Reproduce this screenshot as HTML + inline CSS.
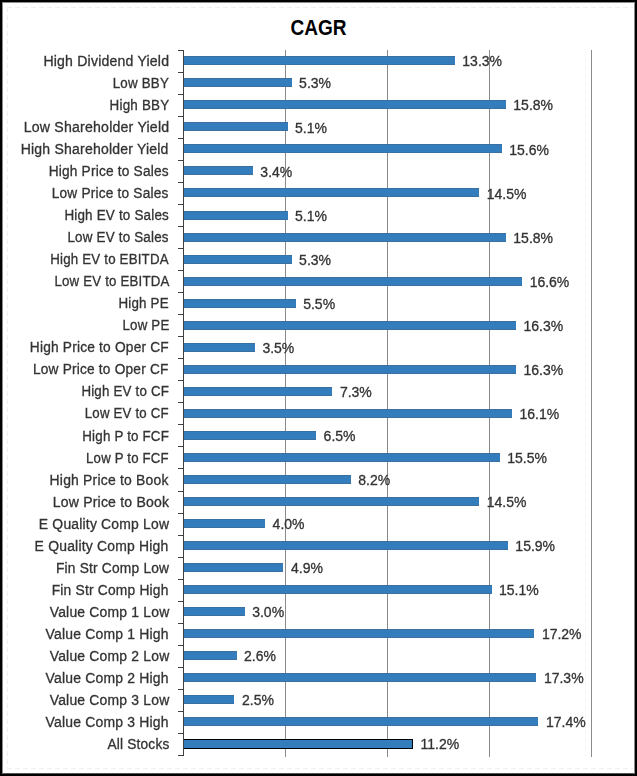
<!DOCTYPE html>
<html><head><meta charset="utf-8"><style>
html,body{margin:0;padding:0;}
body{width:637px;height:776px;position:relative;overflow:hidden;background:#fff;font-family:"Liberation Sans",sans-serif;}
.frame{position:absolute;left:0;top:0;width:637px;height:776px;box-sizing:border-box;border:2px solid #000;}
.frame2{position:absolute;left:2px;top:2px;width:633px;height:772px;box-sizing:border-box;border:1px solid #8c8c8c;border-bottom-color:#555;}
.dh{position:absolute;height:1px;background:repeating-linear-gradient(90deg,#efefef 0 5px,transparent 5px 8px);}
.dv{position:absolute;width:1px;background:repeating-linear-gradient(180deg,#efefef 0 5px,transparent 5px 8px);}
.title{position:absolute;left:0;width:637px;top:12px;text-align:center;font-weight:bold;font-size:22.8px;color:#000;line-height:30px;transform:scaleX(0.835);transform-origin:318px 0;}
.wrap{position:absolute;left:0;top:0;width:637px;height:776px;will-change:transform;}
.g{position:absolute;top:50px;height:707px;width:1px;background:#8a8a8a;}
.ax{position:absolute;left:183px;top:50px;height:706px;width:1px;background:#404040;}
.t{position:absolute;left:178px;width:5px;height:1px;background:#404040;}
.b{position:absolute;left:184px;height:8px;background:#337dbc;box-sizing:border-box;border-top:1px solid #3a6f9f;border-bottom:1px solid #3a6f9f;}
.b.s{border:1px solid #000;border-left:0;}
.l{position:absolute;right:468px;font-size:14px;color:#333333;line-height:16px;margin-top:-8.4px;white-space:nowrap;transform-origin:100% 50%;-webkit-text-stroke:0.3px #333333;letter-spacing:0.2px;}
.v{position:absolute;font-size:14px;color:#333333;line-height:16px;margin-top:-8px;white-space:nowrap;-webkit-text-stroke:0.3px #333333;}
</style></head><body>
<div class="frame"></div><div class="frame2"></div>
<div class="dh" style="left:7px;top:7px;width:626px"></div>
<div class="dh" style="left:7px;top:768px;width:626px"></div>
<div class="dv" style="left:7px;top:7px;height:762px"></div>
<div class="dv" style="left:585px;top:50px;height:706px;opacity:0.5"></div>
<div class="title">CAGR</div>
<div class="wrap"><div class="g" style="left:285px"></div><div class="g" style="left:387px"></div><div class="g" style="left:489px"></div><div class="g" style="left:591px"></div><div class="t" style="top:49.90px"></div><div class="t" style="top:71.93px"></div><div class="t" style="top:93.96px"></div><div class="t" style="top:115.99px"></div><div class="t" style="top:138.02px"></div><div class="t" style="top:160.05px"></div><div class="t" style="top:182.08px"></div><div class="t" style="top:204.11px"></div><div class="t" style="top:226.14px"></div><div class="t" style="top:248.17px"></div><div class="t" style="top:270.20px"></div><div class="t" style="top:292.23px"></div><div class="t" style="top:314.26px"></div><div class="t" style="top:336.29px"></div><div class="t" style="top:358.32px"></div><div class="t" style="top:380.35px"></div><div class="t" style="top:402.38px"></div><div class="t" style="top:424.41px"></div><div class="t" style="top:446.44px"></div><div class="t" style="top:468.47px"></div><div class="t" style="top:490.50px"></div><div class="t" style="top:512.53px"></div><div class="t" style="top:534.56px"></div><div class="t" style="top:556.59px"></div><div class="t" style="top:578.62px"></div><div class="t" style="top:600.65px"></div><div class="t" style="top:622.68px"></div><div class="t" style="top:644.71px"></div><div class="t" style="top:666.74px"></div><div class="t" style="top:688.77px"></div><div class="t" style="top:710.80px"></div><div class="t" style="top:732.83px"></div><div class="t" style="top:754.86px"></div><div class="b" style="top:56px;height:9px;width:271px"></div><div class="l" style="top:61.41px;transform:scaleX(1.0049)">High Dividend Yield</div><div class="v" style="top:61.41px;left:462.32px">13.3%</div><div class="b" style="top:78px;height:9px;width:108px"></div><div class="l" style="top:83.45px;transform:scaleX(0.9544)">Low BBY</div><div class="v" style="top:83.45px;left:299.12px">5.3%</div><div class="b" style="top:100px;height:9px;width:322px"></div><div class="l" style="top:105.48px;transform:scaleX(0.9583)">High BBY</div><div class="v" style="top:105.48px;left:513.32px">15.8%</div><div class="b" style="top:122px;height:9px;width:104px"></div><div class="l" style="top:127.51px;transform:scaleX(1.0092)">Low Shareholder Yield</div><div class="v" style="top:127.51px;left:295.04px">5.1%</div><div class="b" style="top:144px;height:9px;width:318px"></div><div class="l" style="top:149.54px;transform:scaleX(1.0021)">High Shareholder Yield</div><div class="v" style="top:149.54px;left:509.24px">15.6%</div><div class="b" style="top:166px;height:9px;width:69px"></div><div class="l" style="top:171.56px;transform:scaleX(0.9785)">High Price to Sales</div><div class="v" style="top:171.56px;left:260.36px">3.4%</div><div class="b" style="top:188px;height:9px;width:295px"></div><div class="l" style="top:193.60px;transform:scaleX(0.9771)">Low Price to Sales</div><div class="v" style="top:193.60px;left:486.80px">14.5%</div><div class="b" style="top:211px;height:9px;width:104px"></div><div class="l" style="top:215.62px;transform:scaleX(0.9598)">High EV to Sales</div><div class="v" style="top:215.62px;left:295.04px">5.1%</div><div class="b" style="top:233px;height:9px;width:322px"></div><div class="l" style="top:237.66px;transform:scaleX(0.9577)">Low EV to Sales</div><div class="v" style="top:237.66px;left:513.32px">15.8%</div><div class="b" style="top:255px;height:9px;width:108px"></div><div class="l" style="top:259.69px;transform:scaleX(0.95)">High EV to EBITDA</div><div class="v" style="top:259.69px;left:299.12px">5.3%</div><div class="b" style="top:277px;height:9px;width:338px"></div><div class="l" style="top:281.71px;transform:scaleX(0.9471)">Low EV to EBITDA</div><div class="v" style="top:281.71px;left:529.64px">16.6%</div><div class="b" style="top:299px;height:9px;width:112px"></div><div class="l" style="top:303.75px;transform:scaleX(0.9549)">High PE</div><div class="v" style="top:303.75px;left:303.20px">5.5%</div><div class="b" style="top:321px;height:9px;width:332px"></div><div class="l" style="top:325.77px;transform:scaleX(0.95)">Low PE</div><div class="v" style="top:325.77px;left:523.52px">16.3%</div><div class="b" style="top:343px;height:9px;width:71px"></div><div class="l" style="top:347.80px;transform:scaleX(0.98)">High Price to Oper CF</div><div class="v" style="top:347.80px;left:262.40px">3.5%</div><div class="b" style="top:365px;height:9px;width:332px"></div><div class="l" style="top:369.83px;transform:scaleX(0.9788)">Low Price to Oper CF</div><div class="v" style="top:369.83px;left:523.52px">16.3%</div><div class="b" style="top:387px;height:9px;width:148px"></div><div class="l" style="top:391.87px;transform:scaleX(0.9522)">High EV to CF</div><div class="v" style="top:391.87px;left:339.92px">7.3%</div><div class="b" style="top:409px;height:9px;width:328px"></div><div class="l" style="top:413.89px;transform:scaleX(0.946)">Low EV to CF</div><div class="v" style="top:413.89px;left:519.44px">16.1%</div><div class="b" style="top:431px;height:9px;width:132px"></div><div class="l" style="top:435.92px;transform:scaleX(0.9528)">High P to FCF</div><div class="v" style="top:435.92px;left:323.60px">6.5%</div><div class="b" style="top:453px;height:9px;width:316px"></div><div class="l" style="top:457.95px;transform:scaleX(0.9419)">Low P to FCF</div><div class="v" style="top:457.95px;left:507.20px">15.5%</div><div class="b" style="top:475px;height:9px;width:167px"></div><div class="l" style="top:479.99px;transform:scaleX(0.995)">High Price to Book</div><div class="v" style="top:479.99px;left:358.28px">8.2%</div><div class="b" style="top:497px;height:9px;width:295px"></div><div class="l" style="top:502.01px;transform:scaleX(1.0026)">Low Price to Book</div><div class="v" style="top:502.01px;left:486.80px">14.5%</div><div class="b" style="top:519px;height:9px;width:81px"></div><div class="l" style="top:524.04px;transform:scaleX(0.9938)">E Quality Comp Low</div><div class="v" style="top:524.04px;left:272.60px">4.0%</div><div class="b" style="top:541px;height:9px;width:324px"></div><div class="l" style="top:546.08px;transform:scaleX(0.9955)">E Quality Comp High</div><div class="v" style="top:546.08px;left:515.36px">15.9%</div><div class="b" style="top:563px;height:9px;width:99px"></div><div class="l" style="top:568.11px;transform:scaleX(0.9833)">Fin Str Comp Low</div><div class="v" style="top:568.11px;left:290.96px">4.9%</div><div class="b" style="top:585px;height:9px;width:308px"></div><div class="l" style="top:590.13px;transform:scaleX(0.9855)">Fin Str Comp High</div><div class="v" style="top:590.13px;left:499.04px">15.1%</div><div class="b" style="top:607px;height:9px;width:61px"></div><div class="l" style="top:612.16px;transform:scaleX(0.9942)">Value Comp 1 Low</div><div class="v" style="top:612.16px;left:252.20px">3.0%</div><div class="b" style="top:629px;height:9px;width:350px"></div><div class="l" style="top:634.19px;transform:scaleX(0.9959)">Value Comp 1 High</div><div class="v" style="top:634.19px;left:541.88px">17.2%</div><div class="b" style="top:651px;height:9px;width:53px"></div><div class="l" style="top:656.23px;transform:scaleX(0.9942)">Value Comp 2 Low</div><div class="v" style="top:656.23px;left:244.04px">2.6%</div><div class="b" style="top:673px;height:9px;width:352px"></div><div class="l" style="top:678.25px;transform:scaleX(0.9959)">Value Comp 2 High</div><div class="v" style="top:678.25px;left:543.92px">17.3%</div><div class="b" style="top:695px;height:9px;width:50px"></div><div class="l" style="top:700.28px;transform:scaleX(0.9942)">Value Comp 3 Low</div><div class="v" style="top:700.28px;left:242.00px">2.5%</div><div class="b" style="top:717px;height:9px;width:354px"></div><div class="l" style="top:722.32px;transform:scaleX(0.9959)">Value Comp 3 High</div><div class="v" style="top:722.32px;left:545.96px">17.4%</div><div class="b s" style="top:739px;height:10px;width:229px"></div><div class="l" style="top:744.35px;transform:scaleX(0.9774)">All Stocks</div><div class="v" style="top:744.35px;left:420.48px">11.2%</div></div>
<div class="ax"></div>
</body></html>
